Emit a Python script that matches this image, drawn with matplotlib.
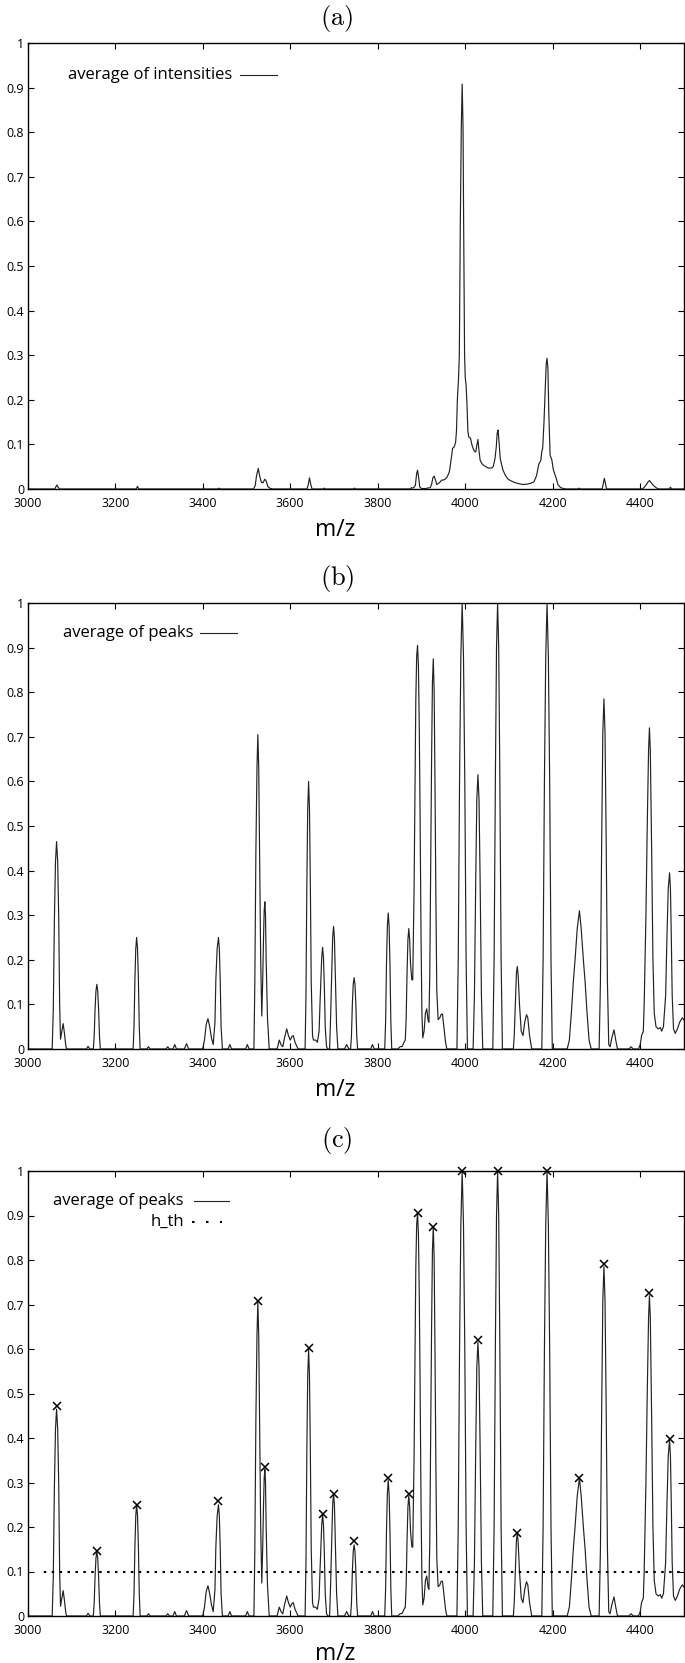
import numpy as np
import matplotlib
matplotlib.use('Agg')
import matplotlib.pyplot as plt

plt.rcParams['font.family'] = ['Open Sans', 'DejaVu Sans']
plt.rcParams['mathtext.fontset'] = 'cm'

# ---- data (m/z, normalised value) ----
intensity_curve = [
    (3000, 0), (3062, 0), (3065, 0.006), (3067, 0.009), (3070, 0.003), (3074, 0),
    (3248, 0), (3251, 0.006), (3254, 0), (3434, 0), (3437, 0.002), (3440, 0),
    (3516, 0), (3520, 0.008), (3523, 0.03), (3527, 0.046), (3530, 0.03), (3534, 0.015),
    (3538, 0.014), (3542, 0.022), (3545, 0.018), (3549, 0.005), (3555, 0.001), (3560, 0),
    (3638, 0), (3641, 0.008), (3644, 0.025), (3647, 0.01), (3650, 0),
    (3676, 0), (3678, 0.002), (3680, 0), (3745, 0), (3747, 0.002), (3749, 0),
    (3874, 0), (3877, 0.003), (3880, 0.002), (3883, 0.004), (3886, 0.008), (3889, 0.035),
    (3891, 0.042), (3893, 0.03), (3896, 0.005), (3900, 0.001), (3910, 0.001), (3913, 0.002),
    (3920, 0.003), (3923, 0.01), (3926, 0.025), (3929, 0.029), (3932, 0.02), (3935, 0.01),
    (3938, 0.012), (3942, 0.015), (3946, 0.02), (3950, 0.02), (3954, 0.022), (3958, 0.026),
    (3961, 0.032), (3964, 0.04), (3967, 0.06), (3969, 0.075), (3971, 0.091), (3975, 0.095),
    (3978, 0.105), (3980, 0.13), (3982, 0.2), (3984.5, 0.244), (3986.5, 0.3), (3988.7, 0.59),
    (3991, 0.81), (3993, 0.908), (3995, 0.81), (3996.4, 0.59), (3998.5, 0.3), (4000, 0.25),
    (4002, 0.233), (4004, 0.19), (4006, 0.13), (4008, 0.117), (4012, 0.114), (4015, 0.1),
    (4018, 0.091), (4021, 0.085), (4024, 0.083), (4026, 0.095), (4029, 0.111), (4031, 0.09),
    (4034, 0.065), (4038, 0.057), (4041, 0.054), (4047, 0.05), (4053, 0.047), (4060, 0.047),
    (4064, 0.05), (4068, 0.068), (4071, 0.095), (4073, 0.125), (4075, 0.132), (4077, 0.11),
    (4080, 0.068), (4083, 0.055), (4086, 0.043), (4092, 0.03), (4098, 0.022), (4105, 0.018),
    (4112, 0.015), (4122, 0.012), (4132, 0.01), (4142, 0.011), (4150, 0.013), (4157, 0.016),
    (4163, 0.03), (4168, 0.055), (4173, 0.065), (4175, 0.085), (4177, 0.091), (4180, 0.15),
    (4183, 0.23), (4185, 0.28), (4187, 0.293), (4189, 0.27), (4191, 0.17), (4194, 0.076),
    (4198, 0.065), (4201, 0.045), (4204, 0.035), (4207, 0.027), (4212, 0.01), (4218, 0.003),
    (4225, 0.001), (4230, 0), (4258, 0), (4260, 0.002), (4262, 0),
    (4313, 0), (4316, 0.015), (4318, 0.024), (4320, 0.015), (4323, 0),
    (4405, 0), (4410, 0.005), (4414, 0.01), (4418, 0.016), (4421, 0.019), (4425, 0.014),
    (4430, 0.008), (4436, 0.003), (4442, 0), (4466, 0), (4469, 0.004), (4472, 0), (4500, 0),
]

peaks_curve = [
    (3000, 0), (3056, 0), (3058.5, 0.09), (3061, 0.29), (3063.5, 0.42), (3066, 0.465),
    (3068.5, 0.42), (3071, 0.29), (3073, 0.1), (3075, 0.022), (3078, 0.04), (3081, 0.057),
    (3084, 0.035), (3087, 0.008), (3089, 0),
    (3134, 0), (3138, 0.006), (3142, 0),
    (3150, 0), (3152, 0.03), (3154, 0.09), (3156, 0.13), (3158, 0.145), (3160, 0.13),
    (3162, 0.09), (3164, 0.03), (3166, 0),
    (3241, 0), (3243, 0.05), (3245, 0.155), (3247, 0.225), (3249, 0.25), (3251, 0.225),
    (3253, 0.155), (3255, 0.05), (3257, 0),
    (3272, 0), (3276, 0.005), (3280, 0),
    (3316, 0), (3320, 0.005), (3324, 0), (3332, 0), (3336, 0.01), (3340, 0),
    (3358, 0), (3363, 0.012), (3368, 0),
    (3400, 0), (3404, 0.02), (3408, 0.055), (3412, 0.068), (3416, 0.05), (3420, 0.025),
    (3424, 0.01), (3428, 0.06), (3430, 0.155), (3433, 0.225), (3436, 0.25), (3438, 0.225),
    (3440, 0.155), (3442, 0.05), (3445, 0),
    (3458, 0), (3462, 0.01), (3466, 0), (3498, 0), (3502, 0.01), (3506, 0),
    (3517, 0), (3519, 0.14), (3521.5, 0.44), (3524, 0.63), (3526, 0.705), (3528, 0.63),
    (3530, 0.44), (3532.5, 0.2), (3535, 0.074), (3537, 0.15), (3539, 0.25), (3540.5, 0.31),
    (3542, 0.33), (3543.5, 0.3), (3545, 0.2), (3548, 0.07), (3552, 0),
    (3570, 0), (3575, 0.02), (3579, 0.01), (3583, 0.005), (3587, 0.025), (3592, 0.045),
    (3596, 0.03), (3600, 0.02), (3604, 0.028), (3607, 0.03), (3611, 0.015), (3618, 0),
    (3634, 0), (3636, 0.12), (3638, 0.37), (3640, 0.54), (3642, 0.6), (3644, 0.54),
    (3646, 0.37), (3648, 0.15), (3651, 0.03), (3653, 0.02), (3658, 0.02), (3662, 0.015),
    (3666, 0.04), (3668, 0.1), (3670, 0.15), (3672, 0.205), (3674, 0.228), (3676, 0.205),
    (3678, 0.14), (3680, 0.05), (3683, 0.005), (3686, 0),
    (3690, 0), (3692, 0.06), (3695, 0.17), (3697, 0.25), (3699, 0.275), (3701, 0.25),
    (3703, 0.17), (3706, 0.05), (3709, 0),
    (3724, 0), (3729, 0.01), (3734, 0),
    (3738, 0), (3740, 0.03), (3742, 0.1), (3744, 0.145), (3746, 0.16), (3748, 0.145),
    (3750, 0.1), (3752, 0.03), (3754, 0),
    (3784, 0), (3788, 0.01), (3792, 0),
    (3816, 0), (3818, 0.06), (3820, 0.19), (3822, 0.275), (3824, 0.305), (3826, 0.275),
    (3828, 0.19), (3830, 0.06), (3832, 0),
    (3846, 0), (3851, 0.005), (3856, 0.006), (3860, 0.015), (3863, 0.02), (3865, 0.07),
    (3867, 0.17), (3869, 0.245), (3871, 0.27), (3873, 0.245), (3875, 0.19), (3878, 0.155),
    (3880, 0.155), (3883, 0.35), (3885, 0.56), (3887, 0.78), (3889, 0.88), (3891, 0.905),
    (3893, 0.86), (3895, 0.72), (3897, 0.5), (3899, 0.25), (3901, 0.08), (3903, 0.025),
    (3906, 0.04), (3909, 0.08), (3912, 0.09), (3915, 0.065), (3917, 0.06), (3919, 0.17),
    (3921, 0.4), (3923, 0.64), (3925, 0.82), (3927, 0.875), (3929, 0.8), (3931, 0.58),
    (3933, 0.33), (3935, 0.13), (3938, 0.066), (3942, 0.07), (3945, 0.078), (3948, 0.078),
    (3951, 0.05), (3955, 0.015), (3958, 0),
    (3981, 0), (3984, 0.2), (3987, 0.6), (3990, 0.88), (3993, 1.0), (3996, 0.88),
    (3999, 0.6), (4002, 0.2), (4005, 0),
    (4018, 0), (4021, 0.12), (4024, 0.38), (4026.5, 0.56), (4029, 0.615), (4031.5, 0.56),
    (4034, 0.38), (4037, 0.12), (4040, 0),
    (4063, 0), (4066, 0.2), (4069, 0.62), (4071.5, 0.9), (4074, 1.0), (4076.5, 0.9),
    (4079, 0.62), (4082, 0.2), (4085, 0),
    (4110, 0), (4112, 0.03), (4115, 0.11), (4117, 0.17), (4119, 0.185), (4121, 0.165),
    (4124, 0.1), (4128, 0.04), (4132, 0.03), (4136, 0.06), (4140, 0.077), (4143, 0.07),
    (4147, 0.03), (4152, 0),
    (4175, 0), (4178, 0.2), (4181, 0.6), (4184, 0.88), (4187, 1.0), (4190, 0.88),
    (4193, 0.6), (4196, 0.2), (4199, 0),
    (4233, 0), (4238, 0.02), (4243, 0.087), (4247, 0.15), (4251, 0.2), (4256, 0.27),
    (4261, 0.31), (4265, 0.27), (4270, 0.2), (4274, 0.15), (4278, 0.087), (4283, 0.02),
    (4288, 0),
    (4306, 0), (4309, 0.15), (4312, 0.48), (4314.5, 0.71), (4317, 0.785), (4319.5, 0.71),
    (4322, 0.48), (4325, 0.15), (4328, 0.01), (4331, 0.005), (4335, 0.025), (4340, 0.043),
    (4344, 0.02), (4348, 0),
    (4374, 0), (4379, 0.005), (4384, 0),
    (4396, 0), (4400, 0.01), (4403, 0.03), (4407, 0.04), (4409, 0.1), (4413, 0.3),
    (4416, 0.5), (4419, 0.67), (4421, 0.72), (4423, 0.67), (4426, 0.45), (4429, 0.2),
    (4432, 0.08), (4436, 0.05), (4441, 0.045), (4446, 0.048), (4449, 0.04), (4453, 0.05),
    (4458, 0.12), (4461, 0.25), (4464, 0.36), (4467, 0.395), (4469, 0.36), (4471, 0.25),
    (4473, 0.12), (4476, 0.045), (4480, 0.035), (4485, 0.045), (4490, 0.06), (4496, 0.07),
    (4500, 0.065),
]

mark_mz = [3066, 3158, 3249, 3436, 3526, 3542, 3642, 3674, 3699, 3746, 3824, 3871,
           3891, 3927, 3993, 4029, 4074, 4119, 4187, 4261, 4317, 4421, 4467]
mark_val = [0.472, 0.145, 0.25, 0.258, 0.708, 0.335, 0.603, 0.23, 0.275, 0.168, 0.31, 0.275,
            0.905, 0.875, 1.0, 0.62, 1.0, 0.187, 1.0, 0.31, 0.79, 0.725, 0.397]
h_th = 0.1

x_ticks = [3000, 3200, 3400, 3600, 3800, 4000, 4200, 4400]
y_ticks = [0, 0.1, 0.2, 0.3, 0.4, 0.5, 0.6, 0.7, 0.8, 0.9, 1.0]
y_labels = ['0', '0.1', '0.2', '0.3', '0.4', '0.5', '0.6', '0.7', '0.8', '0.9', '1']

W, H = 685, 1663
fig = plt.figure(figsize=(W / 100, H / 100), dpi=100)

LINE = '#222222'


def make_axes(top_px, bottom_px):
    left, right = 27.7, 684.0
    ax = fig.add_axes([left / W, 1 - bottom_px / H, (right - left) / W, (bottom_px - top_px) / H])
    ax.set_xlim(3000, 4500)
    ax.set_ylim(0, 1)
    ax.set_xticks(x_ticks)
    ax.set_yticks(y_ticks)
    ax.set_yticklabels(y_labels)
    ax.tick_params(direction='in', length=4.3, width=0.8, labelsize=9,
                   top=True, right=True, colors='black')
    ax.tick_params(axis='x', pad=6)
    ax.tick_params(axis='y', pad=2.5)
    for s in ax.spines.values():
        s.set_linewidth(1.0)
    return ax


def legend_entry(ax, label, xt, y, x0, x1, style='-'):
    ax.text(xt, y, label, transform=ax.transAxes, ha='right', va='center', fontsize=12)
    if style == '-':
        ax.plot([x0, x1], [y, y], transform=ax.transAxes, color=LINE, lw=0.8, clip_on=False)
    else:
        ax.plot([x0, x1], [y, y], transform=ax.transAxes, color='black', lw=1.5,
                linestyle=(0, (1.2, 5.5)), clip_on=False)


def panel_label(text, y_px):
    fig.text(337 / W, 1 - y_px / H, r'$\mathrm{(%s)}$' % text, ha='center', va='center',
             fontsize=19)


def xlabel(y_px):
    fig.text(335 / W, 1 - y_px / H, 'm/z', ha='center', va='baseline', fontsize=16.5)


ix, iy = np.array(intensity_curve).T
px, py = np.array(peaks_curve).T

# (a) average of intensities
ax = make_axes(43, 489)
ax.plot(ix, iy, color=LINE, lw=0.85)
legend_entry(ax, 'average of intensities', 0.311, 0.928, 0.3228, 0.3802)
panel_label('a', 19)
xlabel(536)

# (b) average of peaks
ax = make_axes(603, 1049)
ax.plot(px, py, color=LINE, lw=0.85)
legend_entry(ax, 'average of peaks', 0.252, 0.933, 0.2625, 0.319)
panel_label('b', 578)
xlabel(1096)

# (c) average of peaks with threshold and detected peaks
ax = make_axes(1171, 1616)
ax.plot(px, py, color=LINE, lw=0.85)
ax.axhline(h_th, color='black', lw=1.5, linestyle=(2, (1.2, 2.6)), xmin=0.018)
ax.plot(mark_mz, mark_val, linestyle='none', marker='x', color='black',
        markersize=6, markeredgewidth=1.1, clip_on=False)
legend_entry(ax, 'average of peaks', 0.238, 0.933, 0.2535, 0.307)
legend_entry(ax, 'h_th', 0.238, 0.885, 0.2503, 0.2961, style=':')
panel_label('c', 1140)
xlabel(1660)

fig.savefig('out.png', dpi=100)
